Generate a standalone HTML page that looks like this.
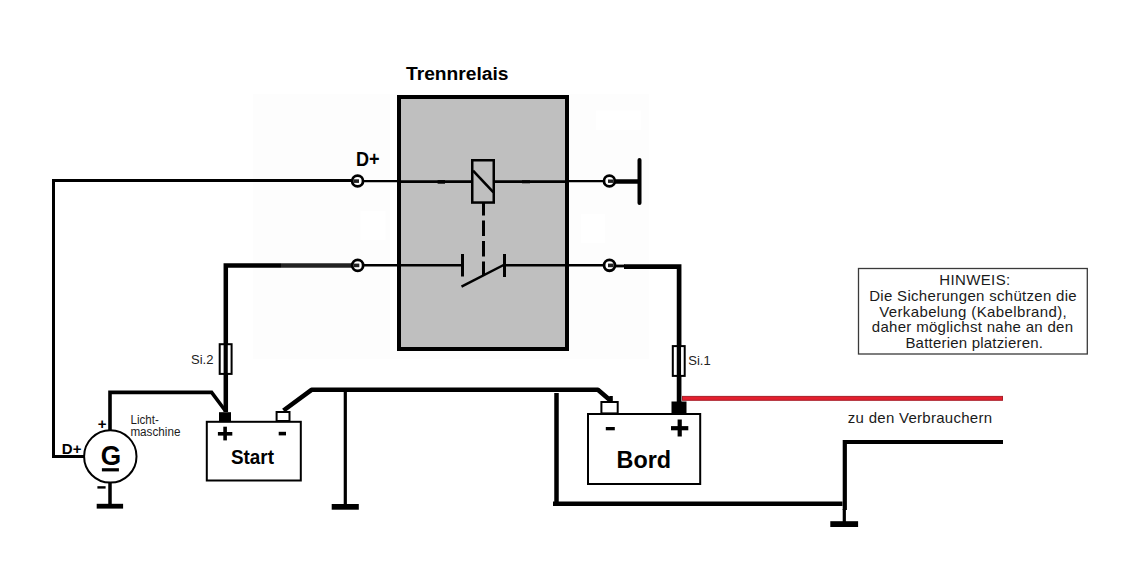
<!DOCTYPE html>
<html><head><meta charset="utf-8">
<style>
html,body{margin:0;padding:0;background:#fff;width:1126px;height:582px;overflow:hidden}
svg{display:block}
text{font-family:"Liberation Sans",sans-serif}
</style></head>
<body>
<svg width="1126" height="582" viewBox="0 0 1126 582">
<rect x="0" y="0" width="1126" height="582" fill="#fff"/>
<!-- off-white background patch -->
<rect x="253" y="94" width="396" height="265" fill="#fdfdfd"/>
<rect x="360.6" y="211" width="24.8" height="29" fill="#fff"/>
<rect x="581" y="214" width="24" height="29" fill="#fff"/>
<rect x="596" y="110.5" width="45" height="19.5" fill="#fff"/>

<!-- Title -->
<text x="406" y="79.6" font-size="19.2" font-weight="bold" fill="#000" textLength="102.5" lengthAdjust="spacingAndGlyphs">Trennrelais</text>

<!-- relay box -->
<rect x="399" y="97" width="168" height="252" fill="#bfbfbf" stroke="#000" stroke-width="4"/>

<g fill="none" stroke="#000" stroke-linecap="butt">
  <!-- top D+ wire -->
  <polyline points="84,456.6 53.5,456.6 53.5,180.5 357,180.5" stroke-width="3"/>
  <line x1="357" y1="181.1" x2="399" y2="181.1" stroke-width="2.1"/>
  <line x1="399" y1="181.7" x2="471" y2="181.7" stroke-width="2.7"/>
  <line x1="437.6" y1="181.9" x2="445" y2="181.9" stroke-width="3.6"/>
  <line x1="522" y1="181.8" x2="530" y2="181.8" stroke-width="3"/>
  <line x1="495" y1="181.7" x2="567" y2="181.7" stroke-width="2.7"/>
  <line x1="567" y1="181.1" x2="609" y2="181.1" stroke-width="2.1"/>
  <line x1="609" y1="181.5" x2="640" y2="181.5" stroke-width="4.5"/>
  <line x1="639.5" y1="160" x2="639.5" y2="203" stroke-width="4" stroke-linecap="round"/>
  <!-- coil -->
  <rect x="472.25" y="160.25" width="21.5" height="42.3" stroke-width="2.5"/>
  <line x1="473" y1="170.6" x2="493.5" y2="192.4" stroke-width="2.6"/>
  <!-- dashed mech link -->
  <line x1="483.5" y1="203" x2="483.5" y2="275" stroke-width="3" stroke-dasharray="15.5 5" stroke-dashoffset="3"/>
  <!-- contact -->
  <line x1="357" y1="265.2" x2="462.5" y2="265.2" stroke-width="2.4"/>
  <line x1="504.5" y1="265.2" x2="609" y2="265.2" stroke-width="2.4"/>
  <line x1="462.5" y1="254" x2="462.5" y2="276.5" stroke-width="3"/>
  <line x1="504.5" y1="254" x2="504.5" y2="277" stroke-width="3"/>
  <line x1="461.5" y1="286.7" x2="503.6" y2="265" stroke-width="2.5"/>
  <!-- lower left wire -->
  <polyline points="225.8,412 225.8,265.5 281,265.5" stroke-width="4.5"/>
  <line x1="281" y1="265.5" x2="357" y2="265.5" stroke="#222" stroke-width="4.5"/>
  <!-- Si.1 wire -->
  <polyline points="624,266.7 679.1,266.7 679.1,402" stroke-width="4.7"/>
  <line x1="612" y1="266" x2="625" y2="266" stroke-width="2.8"/>
  <!-- generator + wire -->
  <polyline points="110,430 110,392.4 211.6,392.4 225.5,411" stroke-width="3.6"/>
  <!-- generator bottom -->
  <line x1="110" y1="483" x2="110" y2="505" stroke-width="3.5"/>
  <!-- start - wire to bord - -->
  <polyline points="283.5,410.5 311.5,389.8 597.9,389.8 611,401" stroke-width="4.6" stroke-linejoin="round"/>
  <!-- ground under start- wire -->
  <line x1="345.3" y1="390" x2="345.3" y2="506" stroke-width="3.2"/>
  <!-- bord left vertical + bottom -->
  <line x1="556.5" y1="393" x2="556.5" y2="504" stroke-width="4.5"/>
  <line x1="553" y1="503.8" x2="842.5" y2="503.8" stroke-width="4.5"/>
  <polyline points="1003,442 844.8,442 844.8,510" stroke-width="4.2"/>
  <line x1="844.3" y1="509" x2="844.3" y2="522" stroke-width="3.2"/>
</g>

<!-- terminal circles -->
<g fill="#fff" stroke="#000" stroke-width="2.8">
  <circle cx="357.6" cy="181" r="5.45"/>
  <circle cx="357.7" cy="265.4" r="5.45"/>
  <circle cx="609.4" cy="181" r="5.45"/>
  <circle cx="609.5" cy="265.3" r="5.45"/>
</g>
<g fill="#222">
  <rect x="353.5" y="179.3" width="5.5" height="3.6"/>
  <rect x="353.8" y="263.6" width="5.5" height="3.6"/>
  <rect x="608" y="179.5" width="5.5" height="3.4"/>
  <rect x="608" y="263.6" width="5.5" height="3.6"/>
</g>

<!-- ground bars -->
<rect x="96.7" y="503.8" width="26.4" height="4.8" fill="#000"/>
<rect x="331.7" y="504" width="27.1" height="5.7" fill="#000"/>
<rect x="830.3" y="521.2" width="27.8" height="5.8" fill="#000"/>

<!-- fuses -->
<g fill="#fff" stroke="#000" stroke-width="2">
  <rect x="219.7" y="344.2" width="11.9" height="29.7"/>
  <rect x="672.8" y="346.1" width="11.9" height="29.8"/>
</g>
<line x1="225.7" y1="344" x2="225.7" y2="375" stroke="#000" stroke-width="4.2"/>
<line x1="678.9" y1="346" x2="678.9" y2="377" stroke="#000" stroke-width="4.3"/>

<!-- generator -->
<circle cx="110.3" cy="456.4" r="26.2" fill="#fff" stroke="#000" stroke-width="2"/>
<text x="100.8" y="465.4" font-size="27" font-weight="bold" fill="#000" textLength="20.4" lengthAdjust="spacingAndGlyphs">G</text>
<rect x="101.9" y="468.2" width="17" height="3.2" fill="#000"/>
<text x="61.8" y="453.6" font-size="15.2" font-weight="bold" fill="#000" textLength="19.6" lengthAdjust="spacingAndGlyphs">D+</text>
<text x="97.8" y="429" font-size="15" font-weight="bold" fill="#000">+</text>
<rect x="97.4" y="486.2" width="8.2" height="2.4" fill="#000"/>
<text x="130.6" y="424.4" font-size="12" fill="#1c1c1c" textLength="28.2" lengthAdjust="spacingAndGlyphs">Licht-</text>
<text x="130.4" y="435.9" font-size="12" fill="#1c1c1c" textLength="50" lengthAdjust="spacingAndGlyphs">maschine</text>

<!-- Start battery -->
<rect x="206.8" y="421.8" width="94" height="58.7" fill="#fff" stroke="#000" stroke-width="2"/>
<rect x="219" y="412.2" width="12" height="9.6" fill="#000"/>
<rect x="276.6" y="412" width="12.9" height="9" fill="#fff" stroke="#000" stroke-width="2"/>
<rect x="217.9" y="432" width="14.4" height="3.6" fill="#000"/>
<rect x="223.3" y="426.7" width="3.6" height="13.7" fill="#000"/>
<rect x="278.7" y="431.8" width="7.3" height="3.6" fill="#000"/>
<text x="231" y="463.8" font-size="20" font-weight="bold" fill="#000" textLength="43" lengthAdjust="spacingAndGlyphs">Start</text>

<!-- Bord battery -->
<rect x="588" y="414" width="112.2" height="70" fill="#fff" stroke="#000" stroke-width="2"/>
<rect x="601.4" y="402" width="16.3" height="11.4" fill="#fff" stroke="#000" stroke-width="2"/>
<rect x="609.3" y="396" width="3.5" height="5" fill="#000"/>
<rect x="671.5" y="401.5" width="15" height="11.8" fill="#000"/>
<rect x="671" y="426.1" width="17.3" height="4.2" fill="#000"/>
<rect x="677.6" y="419.5" width="4.2" height="17" fill="#000"/>
<rect x="605.8" y="427" width="9" height="3.3" fill="#000"/>
<text x="616.6" y="467.5" font-size="23.3" font-weight="bold" fill="#000" textLength="54.5" lengthAdjust="spacingAndGlyphs">Bord</text>

<!-- red line -->
<rect x="682.5" y="396.4" width="320" height="3.9" fill="#e41f2d" stroke="#a8202a" stroke-width="1"/>

<!-- D+ relay label -->
<text x="356" y="165.6" font-size="20" font-weight="bold" fill="#000" textLength="23.6" lengthAdjust="spacingAndGlyphs">D+</text>

<!-- Si labels -->
<text x="191" y="364" font-size="13" fill="#222">Si.2</text>
<text x="688.3" y="365" font-size="13" fill="#222">Si.1</text>

<!-- HINWEIS box -->
<rect x="858.5" y="268.5" width="228.8" height="85.5" fill="#fff" stroke="#3a3a3a" stroke-width="1.3"/>
<g font-size="15" fill="#1a1a1a">
  <text x="939.2" y="285.3" textLength="71" lengthAdjust="spacing">HINWEIS:</text>
  <text x="869.2" y="300.5" textLength="207.5" lengthAdjust="spacing">Die Sicherungen schützen die</text>
  <text x="879.2" y="316.9" textLength="187.5" lengthAdjust="spacing">Verkabelung (Kabelbrand),</text>
  <text x="871.8" y="332.3" textLength="201.3" lengthAdjust="spacing">daher möglichst nahe an den</text>
  <text x="905.4" y="347.9" textLength="137.5" lengthAdjust="spacing">Batterien platzieren.</text>
</g>

<text x="847.8" y="422.5" font-size="15" fill="#1a1a1a" textLength="144.3" lengthAdjust="spacing">zu den Verbrauchern</text>
</svg>
</body></html>
